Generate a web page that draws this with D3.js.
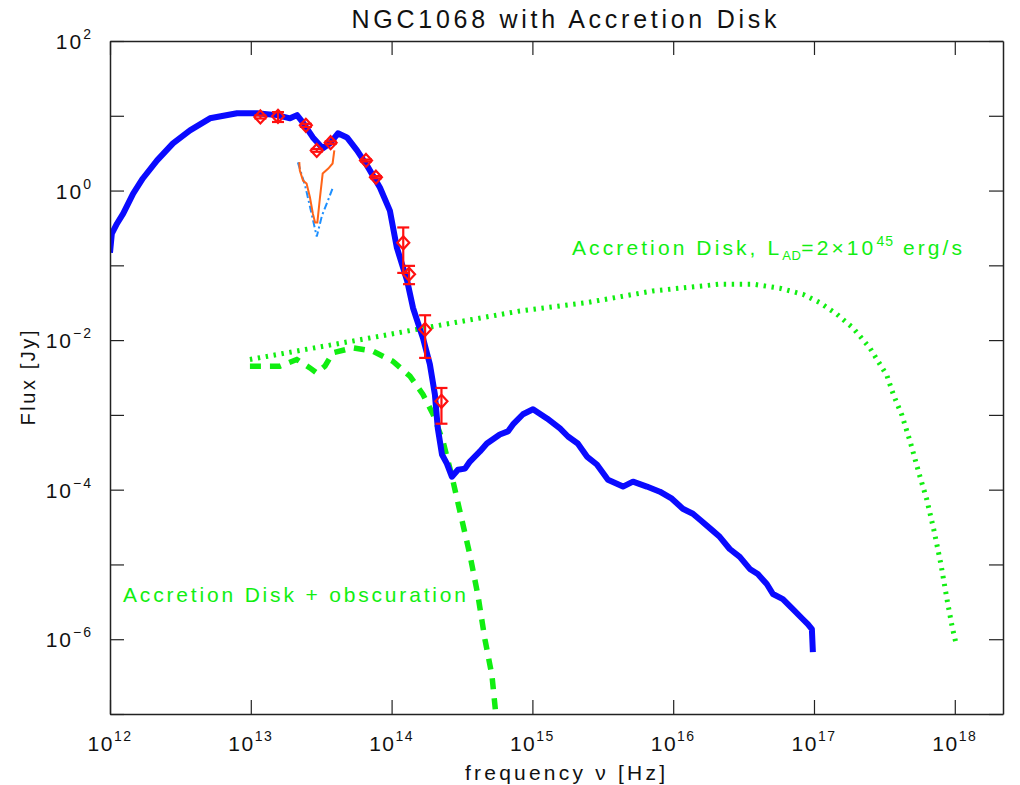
<!DOCTYPE html>
<html>
<head>
<meta charset="utf-8">
<script src="https://cdn.jsdelivr.net/npm/d3@7"></script>
<style>
  html, body { margin: 0; padding: 0; background: #fff; }
  svg { display: block; }
  text { font-family: "Liberation Sans", "DejaVu Sans", sans-serif; }
</style>
</head>
<body>
<svg id="chart" width="1020" height="785"></svg>
<script>
// ---------------- data ----------------
const title = "NGC1068 with Accretion Disk";
const xLabel = "frequency \u03BD [Hz]";
const yLabel = "Flux [Jy]";
const xDomain = [1e12, 2.2e18];
const yDomain = [1e-7, 1e2];
const xTickExps = [12, 13, 14, 15, 16, 17, 18];
const yTickExps = [-7, -6, -5, -4, -3, -2, -1, 0, 1, 2];
const yLabelExps = [-6, -4, -2, 0, 2];

// total model SED (blue)
const modelNu = [1.00e12,1.03e12,1.12e12,1.24e12,1.46e12,1.71e12,2.16e12,2.80e12,3.70e12,5.13e12,
  7.98e12,1.11e13,1.53e13,1.90e13,2.13e13,2.34e13,2.76e13,3.25e13,3.65e13,4.16e13,
  4.82e13,5.68e13,6.68e13,8.26e13,9.72e13,1.09e14,1.29e14,1.42e14,1.67e14,1.87e14,
  2.03e14,2.13e14,2.28e14,2.47e14,2.68e14,2.96e14,3.32e14,3.60e14,4.24e14,4.75e14,
  5.87e14,6.70e14,7.28e14,8.57e14,1.01e15,1.27e15,1.57e15,1.79e15,2.10e15,2.44e15,
  2.87e15,3.44e15,4.40e15,5.18e15,6.50e15,8.04e15,9.79e15,1.17e16,1.38e16,1.55e16,
  1.88e16,2.14e16,2.52e16,2.97e16,3.50e16,3.99e16,4.62e16,5.11e16,6.01e16,7.08e16,
  8.34e16,9.04e16,9.66e16,9.82e16];
const modelFlux = [0.147,0.265,0.360,0.491,0.912,1.45,2.53,4.28,6.38,9.25,
  10.8,10.8,10.2,9.25,10.2,8.18,5.14,3.66,4.28,5.82,
  5.14,3.44,2.17,1.10,0.540,0.172,0.0619,0.0269,0.01064,0.00476,
  0.00188,6.59e-4,2.95e-4,2.23e-4,1.49e-4,1.85e-4,1.91e-4,2.38e-4,3.24e-4,4.14e-4,
  5.47e-4,6.01e-4,7.45e-4,1.02e-3,1.19e-3,8.97e-4,6.59e-4,5.14e-4,4.14e-4,2.77e-4,
  2.17e-4,1.36e-4,1.10e-4,1.28e-4,1.10e-4,9.40e-5,7.57e-5,5.56e-5,4.76e-5,3.95e-5,
  2.90e-5,2.34e-5,1.61e-5,1.26e-5,8.71e-6,7.45e-6,5.47e-6,4.02e-6,3.44e-6,2.53e-6,
  1.85e-6,1.59e-6,1.36e-6,6.70e-7];

// photometry (red diamonds with error bars)
const obsNu   = [1.17e13,1.56e13,2.46e13,2.94e13,3.69e13,6.58e13,7.74e13,1.21e14,1.33e14,1.73e14,2.26e14];
const obsFlux = [9.64,9.85,7.45,3.44,4.37,2.53,1.51,0.200,0.0762,0.0139,0.00152];
const obsLo   = [9.2,8.26,7.1,3.3,4.2,2.45,1.46,0.0792,0.0560,0.00578,7.62e-4];
const obsHi   = [10.1,11.2,7.8,3.6,4.55,2.6,1.56,0.321,0.0984,0.0215,0.00229];

// mid-IR spectrum (orange)
const specNu   = [2.21e13,2.23e13,2.35e13,2.49e13,2.63e13,2.76e13,2.86e13,2.97e13,3.10e13,3.24e13,3.55e13,3.81e13,3.92e13];
const specFlux = [2.40,1.85,1.36,1.24,0.813,0.491,0.375,0.375,0.813,1.69,1.97,2.30,3.44];

// silicate template (dash-dot light blue)
const silNu   = [2.16e13,2.43e13,2.67e13,2.94e13,3.20e13,3.53e13,3.83e13];
const silFlux = [2.38,1.17,0.540,0.242,0.461,0.734,1.10];

// accretion disk (green dotted)
const adNu   = [9.86e12,8.26e13,1.73e14,8.15e14,2.43e15,7.18e15,2.14e16,3.68e16,5.73e16,8.34e16,
  1.10e17,1.45e17,1.89e17,2.49e17,3.29e17,3.67e17,4.21e17,4.83e17,5.55e17,6.33e17,
  7.10e17,7.96e17,8.85e17,9.62e17,1.02e18];
const adFlux = [0.00551,0.0113,0.0146,0.0245,0.0317,0.0455,0.0560,0.0560,0.0494,0.0410,
  0.0317,0.0223,0.0146,0.00788,0.00339,0.00185,9.93e-4,4.33e-4,1.69e-4,7.35e-5,
  2.90e-5,1.02e-5,3.24e-6,1.41e-6,8.83e-7];

// accretion disk + obscuration (green dashed)
const adObsNu   = [9.86e12,1.61e13,2.12e13,2.63e13,2.94e13,3.36e13,3.83e13,5.31e13,7.38e13,1.02e14,
  1.35e14,1.67e14,1.97e14,2.32e14,2.67e14,3.06e14,3.60e14,4.10e14,4.60e14,5.16e14,5.51e14];
const adObsFlux = [0.00448,0.00448,0.00551,0.00425,0.00364,0.00448,0.00676,0.00788,0.00711,0.00522,
  0.00329,0.00188,0.00102,4.41e-4,1.56e-4,5.07e-5,1.34e-5,3.90e-6,1.0e-6,3.29e-7,9.55e-8];

// ---------------- drawing ----------------
const svg = d3.select("#chart");
const L = 110, R = 1003, T = 41, B = 714;
const x = d3.scaleLog().domain(xDomain).range([L, R]);
const y = d3.scaleLog().domain(yDomain).range([B, T]);

svg.append("defs").append("clipPath").attr("id", "clip")
  .append("rect").attr("x", L).attr("y", T).attr("width", R - L).attr("height", B - T);

const plot = svg.append("g").attr("clip-path", "url(#clip)");
const line = d3.line().x(d => x(d[0])).y(d => y(d[1]));
const zip = (a, b) => a.map((v, i) => [v, b[i]]);

// accretion disk dotted
plot.append("path").attr("d", line(zip(adNu, adFlux)))
  .attr("fill", "none").attr("stroke", "#11ee11").attr("stroke-width", 5)
  .attr("stroke-dasharray", "2.4 5.6");
// accretion disk + obscuration dashed
plot.append("path").attr("d", line(zip(adObsNu, adObsFlux)))
  .attr("fill", "none").attr("stroke", "#11ee11").attr("stroke-width", 5.5)
  .attr("stroke-dasharray", "11 9");
// model
plot.append("path").attr("d", line(zip(modelNu, modelFlux)))
  .attr("fill", "none").attr("stroke", "#0a0aff").attr("stroke-width", 6)
  .attr("stroke-linejoin", "round");
// silicate dash-dot
plot.append("path").attr("d", line(zip(silNu, silFlux)))
  .attr("fill", "none").attr("stroke", "#1e90ff").attr("stroke-width", 2)
  .attr("stroke-dasharray", "7 3 2 3");
// spectrum
plot.append("path").attr("d", line(zip(specNu, specFlux)))
  .attr("fill", "none").attr("stroke", "#ff6418").attr("stroke-width", 2);

// photometry
const obs = obsNu.map((v, i) => ({nu: v, f: obsFlux[i], lo: obsLo[i], hi: obsHi[i]}));
const og = plot.append("g").attr("stroke", "#ff1010").attr("stroke-width", 2.2).attr("fill", "none");
og.selectAll("line.eb").data(obs).join("line").attr("class", "eb")
  .attr("x1", d => x(d.nu)).attr("x2", d => x(d.nu))
  .attr("y1", d => y(d.lo)).attr("y2", d => y(d.hi));
og.selectAll("line.c1").data(obs).join("line").attr("class", "c1")
  .attr("x1", d => x(d.nu) - 6).attr("x2", d => x(d.nu) + 6)
  .attr("y1", d => y(d.lo)).attr("y2", d => y(d.lo));
og.selectAll("line.c2").data(obs).join("line").attr("class", "c2")
  .attr("x1", d => x(d.nu) - 6).attr("x2", d => x(d.nu) + 6)
  .attr("y1", d => y(d.hi)).attr("y2", d => y(d.hi));
og.selectAll("path.dm").data(obs).join("path").attr("class", "dm")
  .attr("d", d => {
    const cx = x(d.nu), cy = y(d.f);
    return `M${cx},${cy-6.5}L${cx+6},${cy}L${cx},${cy+6.5}L${cx-6},${cy}Z`;
  });

// axes
const tickLen = 14;
const xTicks = xTickExps.map(e => Math.pow(10, e));
const yTicks = yTickExps.map(e => Math.pow(10, e));
const axStyle = g => {
  g.select(".domain").attr("stroke", "#222").attr("stroke-width", 1.5);
  g.selectAll(".tick line").attr("stroke", "#222").attr("stroke-width", 1.2);
};
svg.append("g").attr("transform", `translate(0,${B})`)
  .call(d3.axisBottom(x).tickValues(xTicks).tickSize(-tickLen).tickSizeOuter(0).tickFormat(""))
  .call(axStyle);
svg.append("g").attr("transform", `translate(0,${T})`)
  .call(d3.axisTop(x).tickValues(xTicks).tickSize(-tickLen).tickSizeOuter(0).tickFormat(""))
  .call(axStyle);
svg.append("g").attr("transform", `translate(${L},0)`)
  .call(d3.axisLeft(y).tickValues(yTicks).tickSize(-tickLen).tickSizeOuter(0).tickFormat(""))
  .call(axStyle);
svg.append("g").attr("transform", `translate(${R},0)`)
  .call(d3.axisRight(y).tickValues(yTicks).tickSize(-tickLen).tickSizeOuter(0).tickFormat(""))
  .call(axStyle);

// tick labels with superscripts
const xl = svg.append("g").attr("font-size", 21).attr("fill", "#111").attr("letter-spacing", 1.5);
xTickExps.forEach(e => {
  const t = xl.append("text").attr("x", x(Math.pow(10, e))).attr("y", 751).attr("text-anchor", "middle");
  t.append("tspan").text("10");
  t.append("tspan").attr("dy", -10).attr("font-size", 14).text(e);
});
const yl = svg.append("g").attr("font-size", 21).attr("fill", "#111").attr("letter-spacing", 2);
yLabelExps.forEach(e => {
  const t = yl.append("text").attr("x", 93).attr("y", y(Math.pow(10, e)) + 8).attr("text-anchor", "end");
  t.append("tspan").text("10");
  t.append("tspan").attr("dy", -10).attr("font-size", 14).text(e < 0 ? "\u2212" + (-e) : e);
});

// title and axis labels
svg.append("text").attr("x", 564).attr("y", 28).attr("text-anchor", "middle")
  .attr("font-size", 25).attr("fill", "#111")
  .attr("textLength", 425).attr("lengthAdjust", "spacing").text(title);
svg.append("text").attr("x", 565).attr("y", 780).attr("text-anchor", "middle")
  .attr("font-size", 21).attr("fill", "#111")
  .attr("textLength", 200).attr("lengthAdjust", "spacing").text(xLabel);
svg.append("text").attr("transform", "translate(35,378) rotate(-90)").attr("text-anchor", "middle")
  .attr("font-size", 20).attr("fill", "#111")
  .attr("textLength", 95).attr("lengthAdjust", "spacing").text(yLabel);

// annotations
const a1 = svg.append("text").attr("x", 572).attr("y", 255).attr("font-size", 21)
  .attr("fill", "#11ee11").attr("letter-spacing", 3.1);
a1.append("tspan").text("Accretion Disk, L");
a1.append("tspan").attr("dy", 5).attr("font-size", 13).attr("letter-spacing", 0.5).text("AD");
a1.append("tspan").attr("dy", -5).text("=2\u00D710");
a1.append("tspan").attr("dy", -9).attr("font-size", 14).attr("letter-spacing", 1).text("45");
a1.append("tspan").attr("dy", 9).text(" erg/s");

svg.append("text").attr("x", 123).attr("y", 602).attr("font-size", 21)
  .attr("fill", "#11ee11")
  .attr("textLength", 343).attr("lengthAdjust", "spacing").text("Accretion Disk + obscuration");
</script>
</body>
</html>
